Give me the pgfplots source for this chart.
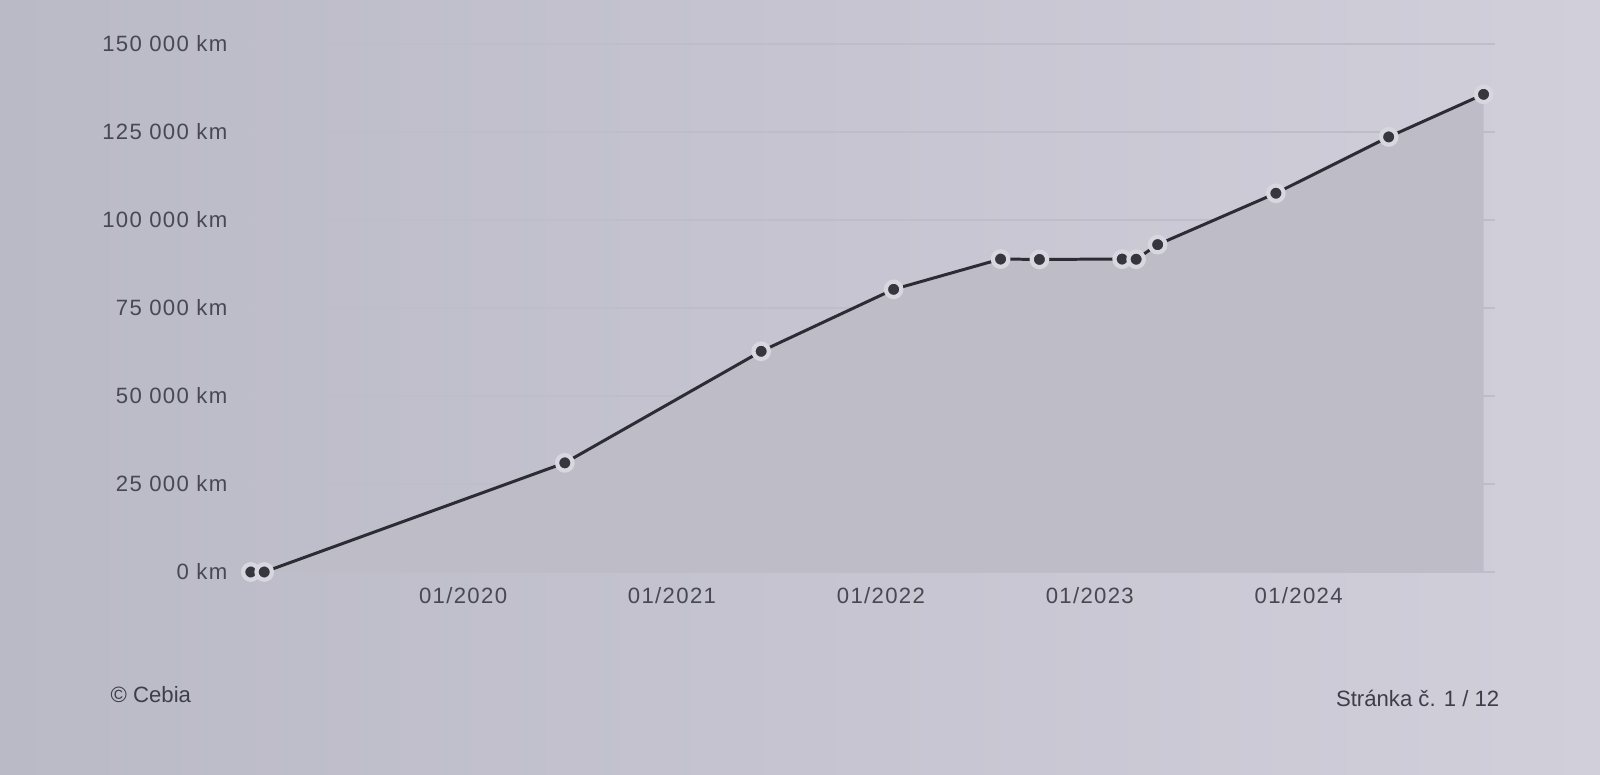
\documentclass[border=0pt]{standalone}
\usepackage{fontspec}
\setmainfont{Liberation Sans}
\newfontfamily\tickfont[LetterSpace=6]{Liberation Sans}
\usepackage{pgfplots}
\pgfplotsset{compat=1.18}

\definecolor{paperL}{RGB}{186,185,198}
\definecolor{paperM}{RGB}{203,202,213}
\definecolor{paperR}{RGB}{208,207,218}
\definecolor{areac}{RGB}{190,189,199}
\definecolor{gridc}{RGB}{190,189,201}
\definecolor{textc}{RGB}{62,62,70}
\definecolor{tickc}{RGB}{72,72,80}
\definecolor{linec}{RGB}{44,44,52}
\definecolor{markc}{RGB}{54,54,62}
\definecolor{haloc}{RGB}{216,215,224}

\begin{document}
\begin{tikzpicture}
\useasboundingbox (0,0) rectangle (16,7.74);
\shade[left color=paperL, middle color=paperM, right color=paperR] (0,0) rectangle (16,7.74);
\begin{axis}[
  at={(2.5cm,2.02cm)}, anchor=south west,
  scale only axis, width=12.45cm, height=5.28cm,
  xmin=2018.98, xmax=2024.94, ymin=0, ymax=150000,
  axis line style={draw=none},
  major tick length=0pt,
  ytick={0,25000,50000,75000,100000,125000,150000},
  yticklabels={0 km,25 000 km,50 000 km,75 000 km,100 000 km,125 000 km,150 000 km},
  xtick={2020,2021,2022,2023,2024},
  xticklabels={01/2020,01/2021,01/2022,01/2023,01/2024},
  ymajorgrids, grid style={gridc, line width=0.45pt},
  tick label style={font=\tickfont\fontsize{6.3}{7.3}\selectfont, text=tickc},
  yticklabel style={inner sep=0pt, xshift=-0.22cm},
  xticklabel style={inner sep=0pt, yshift=-0.15cm},
  scaled y ticks=false,
  clip=false,
]
% area under the odometer curve
\addplot[draw=none, fill=areac] coordinates {
  (2018.984,0) (2019.048,0) (2020.487,31000) (2021.427,62700)
  (2022.061,80300) (2022.573,88900) (2022.759,88800) (2023.155,88900)
  (2023.222,88850) (2023.325,93000) (2023.891,107600) (2024.431,123600)
  (2024.885,135700) } \closedcycle;
% readings
\addplot[linec, line width=0.85pt, mark=*, mark size=2.2pt,
         mark options={fill=markc, draw=haloc, line width=1.2pt}] coordinates {
  (2018.984,0) (2019.048,0) (2020.487,31000) (2021.427,62700)
  (2022.061,80300) (2022.573,88900) (2022.759,88800) (2023.155,88900)
  (2023.222,88850) (2023.325,93000) (2023.891,107600) (2024.431,123600)
  (2024.885,135700) };
\end{axis}
\node[anchor=west, inner sep=0pt, text=textc, font=\fontsize{6.3}{7}\selectfont] at (1.10,0.79) {© Cebia};
\node[anchor=east, inner sep=0pt, text=textc, font=\fontsize{6.3}{7}\selectfont] at (15.0,0.76) {Stránka č. 1 / 12};
\end{tikzpicture}
\end{document}
